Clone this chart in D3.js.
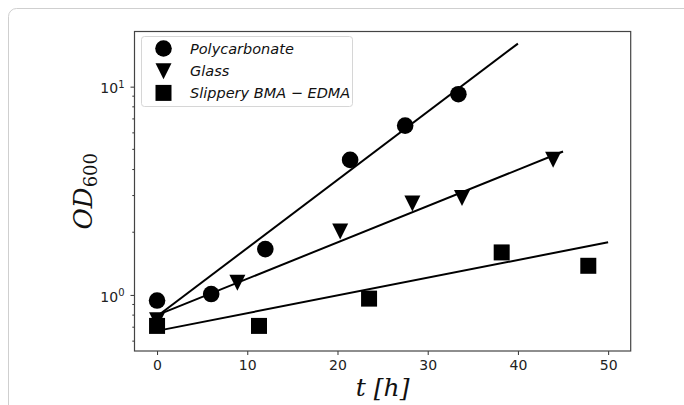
<!DOCTYPE html>
<html>
<head>
<meta charset="utf-8">
<script src="https://cdn.jsdelivr.net/npm/d3@7"></script>
<style>
  body { margin: 0; background: #fff; }
  svg { display: block; }
</style>
</head>
<body>
<div class="chart"></div>
<script>
// measured points
const timesPoly = [0, 6, 12, 21.4, 27.5, 33.4];
const odPoly = [0.94, 1.01, 1.66, 4.45, 6.5, 9.2];
const timesGlass = [0, 8.9, 20.3, 28.3, 33.8, 43.9];
const odGlass = [0.76, 1.15, 2.03, 2.76, 2.94, 4.48];
const timesBma = [0, 11.3, 23.5, 38.2, 47.8];
const odBma = [0.71, 0.71, 0.96, 1.6, 1.38];

// exponential fits, start and end
const fitTimes = [[0, 40], [0, 45], [0, 50]];
const fitOD = [[0.79, 16.1], [0.80, 4.88], [0.672, 1.79]];

const seriesNames = ['Polycarbonate', 'Glass', 'Slippery BMA \u2212 EDMA'];
const xTicks = [0, 10, 20, 30, 40, 50];
const yMajor = [1, 10];
const yMinor = [0.6, 0.7, 0.8, 0.9, 2, 3, 4, 5, 6, 7, 8, 9];

const width = 684, height = 405;
const margin = { left: 134.5, right: 684 - 630.7, top: 31.5, bottom: 405 - 351 };

const svg = d3.select('.chart').append('svg')
  .attr('width', width)
  .attr('height', height);

// outer card border
svg.append('rect')
  .attr('x', 8.5).attr('y', 8.5)
  .attr('width', 720).attr('height', 430)
  .attr('rx', 8)
  .attr('fill', 'none')
  .attr('stroke', '#cfcfcf');

const x = d3.scaleLinear().domain([-2.5, 52.5]).range([margin.left, width - margin.right]);
const y = d3.scaleLog().domain([0.538, 18.4]).range([height - margin.bottom, margin.top]);

const tickCol = '#333';

// x axis
const xAxis = svg.append('g')
  .attr('transform', `translate(0, ${height - margin.bottom})`)
  .call(d3.axisBottom(x).tickValues(xTicks).tickSize(4).tickPadding(5).tickFormat(d3.format('d')));
xAxis.select('.domain').remove();
xAxis.selectAll('line').attr('stroke', tickCol);
xAxis.selectAll('text').attr('font-family', 'DejaVu Sans').attr('font-size', '14px').attr('fill', '#222');

// y axis
const yAxis = svg.append('g')
  .attr('transform', `translate(${margin.left}, 0)`)
  .call(d3.axisLeft(y).tickValues(yMajor).tickSize(4).tickPadding(6).tickFormat(''));
yAxis.select('.domain').remove();
yAxis.selectAll('line').attr('stroke', tickCol);
yAxis.selectAll('.tick text').each(function(d) {
  const t = d3.select(this)
    .attr('font-family', 'DejaVu Sans').attr('font-size', '14px').attr('fill', '#222')
    .attr('dy', '0.45em');
  t.append('tspan').text('10');
  t.append('tspan').text(Math.round(Math.log10(d))).attr('font-size', '10px').attr('dy', '-0.55em');
});

svg.append('g')
  .selectAll('line')
  .data(yMinor)
  .join('line')
  .attr('x1', margin.left - 2.2).attr('x2', margin.left)
  .attr('y1', d => y(d)).attr('y2', d => y(d))
  .attr('stroke', tickCol);

// frame
svg.append('rect')
  .attr('x', margin.left).attr('y', margin.top)
  .attr('width', width - margin.left - margin.right)
  .attr('height', height - margin.top - margin.bottom)
  .attr('fill', 'none')
  .attr('stroke', '#444')
  .attr('stroke-width', 1.2);

// markers
const circle = d3.symbol().type(d3.symbolCircle).size(Math.PI * 8.3 * 8.3);
const square = d3.symbol().type(d3.symbolSquare).size(16 * 16);
const triDown = 'M-8,-7.5L8,-7.5L0,8.5Z';

const plot = svg.append('g');

plot.selectAll('.poly')
  .data(timesPoly.map((t, i) => [t, odPoly[i]]))
  .join('path')
  .attr('class', 'poly')
  .attr('d', circle)
  .attr('transform', d => `translate(${x(d[0])}, ${y(d[1])})`)
  .attr('fill', '#000');

plot.selectAll('.glass')
  .data(timesGlass.map((t, i) => [t, odGlass[i]]))
  .join('path')
  .attr('class', 'glass')
  .attr('d', triDown)
  .attr('transform', d => `translate(${x(d[0])}, ${y(d[1])})`)
  .attr('fill', '#000');

plot.selectAll('.bma')
  .data(timesBma.map((t, i) => [t, odBma[i]]))
  .join('path')
  .attr('class', 'bma')
  .attr('d', square)
  .attr('transform', d => `translate(${x(d[0])}, ${y(d[1])})`)
  .attr('fill', '#000');

// fit lines
const line = d3.line().x(d => x(d[0])).y(d => y(d[1]));
fitTimes.forEach((ts, i) => {
  plot.append('path')
    .attr('d', line(ts.map((t, j) => [t, fitOD[i][j]])))
    .attr('fill', 'none')
    .attr('stroke', '#000')
    .attr('stroke-width', 2);
});

// legend
const legend = svg.append('g').attr('transform', 'translate(141.5, 36.5)');
legend.append('rect')
  .attr('width', 211).attr('height', 70)
  .attr('rx', 3)
  .attr('fill', '#fff')
  .attr('fill-opacity', 0.8)
  .attr('stroke', '#d6d6d6');

const legendMarks = [circle(), triDown, square()];
seriesNames.forEach((name, i) => {
  const row = legend.append('g').attr('transform', `translate(0, ${12 + i * 22.2})`);
  row.append('path')
    .attr('d', legendMarks[i])
    .attr('transform', 'translate(22, 0)')
    .attr('fill', '#000');
  row.append('text')
    .attr('x', 48.5).attr('y', 0).attr('dy', '0.36em')
    .attr('font-family', 'DejaVu Sans')
    .attr('font-style', 'italic')
    .attr('font-size', '14.5px')
    .attr('fill', '#111')
    .text(name);
});

// axis titles
svg.append('text')
  .attr('x', (margin.left + width - margin.right) / 2)
  .attr('y', 396)
  .attr('text-anchor', 'middle')
  .attr('font-family', 'DejaVu Serif')
  .attr('font-style', 'italic')
  .attr('font-size', '25px')
  .attr('fill', '#111')
  .text('t [h]');

const yTitle = svg.append('text')
  .attr('transform', `translate(92, ${(margin.top + height - margin.bottom) / 2}) rotate(-90)`)
  .attr('text-anchor', 'middle')
  .attr('font-family', 'DejaVu Serif')
  .attr('font-size', '26px')
  .attr('fill', '#111');
yTitle.append('tspan').attr('font-style', 'italic').text('OD');
yTitle.append('tspan').attr('font-size', '18px').attr('dy', '0.25em').text('600');
</script>
</body>
</html>
